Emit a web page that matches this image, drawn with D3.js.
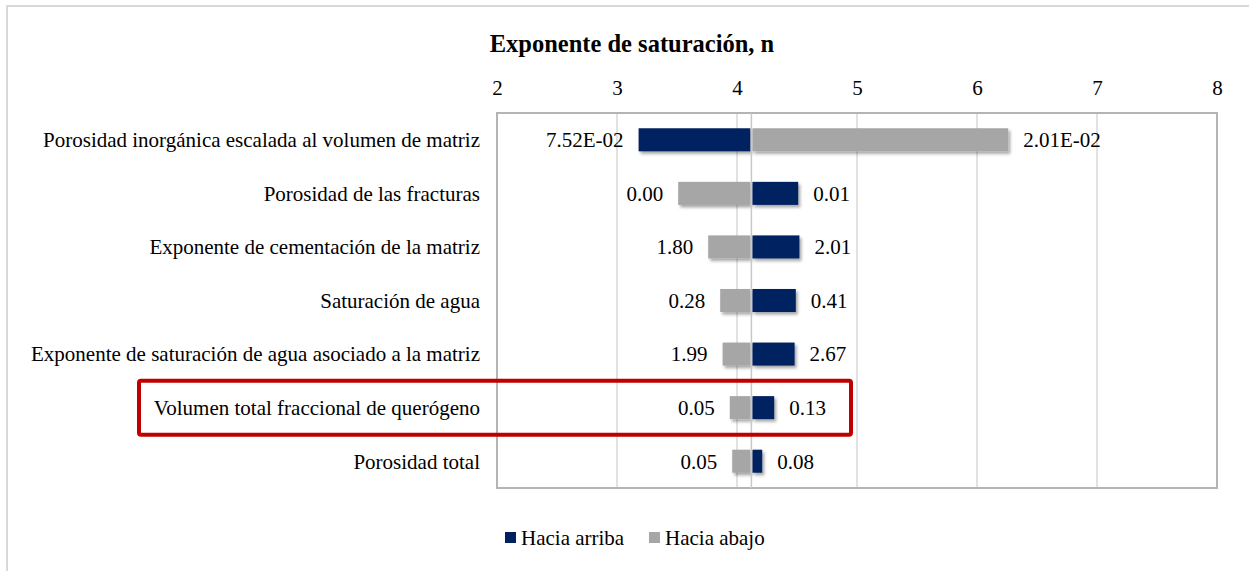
<!DOCTYPE html>
<html>
<head>
<meta charset="utf-8">
<script src="https://cdn.jsdelivr.net/npm/d3@7"></script>
<style>
  html, body { margin: 0; padding: 0; background: #fff; }
  svg { display: block; font-family: "Liberation Serif", "Times New Roman", serif; }
</style>
</head>
<body>
<svg id="chart" width="1249" height="571"></svg>
<script>
// Sensitivity of the saturation exponent n to each input parameter
const categories = [
  "Porosidad inorgánica escalada al volumen de matriz",
  "Porosidad de las fracturas",
  "Exponente de cementación de la matriz",
  "Saturación de agua",
  "Exponente de saturación de agua asociado a la matriz",
  "Volumen total fraccional de querógeno",
  "Porosidad total"
];
// n obtained when the parameter is moved up / down
const haciaArriba = [3.18, 4.51, 4.52, 4.49, 4.48, 4.31, 4.21];
const haciaAbajo  = [6.26, 3.51, 3.76, 3.86, 3.88, 3.94, 3.96];
// parameter values shown next to each bar
const labelsArriba = ["7.52E-02", "0.01", "2.01", "0.41", "2.67", "0.13", "0.08"];
const labelsAbajo  = ["2.01E-02", "0.00", "1.80", "0.28", "1.99", "0.05", "0.05"];
const baseValue = 4.12;
const xTicks = [2, 3, 4, 5, 6, 7, 8];
const seriesNames = ["Hacia arriba", "Hacia abajo"];
const highlighted = "Volumen total fraccional de querógeno";

const colors = { up: "#002060", down: "#a6a6a6" };
const fontSize = 21;

const svg = d3.select("#chart");

const defs = svg.append("defs");
const shadow = defs.append("filter").attr("id", "barShadow")
  .attr("x", "-10%").attr("y", "-30%").attr("width", "130%").attr("height", "190%");
shadow.append("feDropShadow")
  .attr("dx", 2).attr("dy", 2.5).attr("stdDeviation", 1.6)
  .attr("flood-color", "#000").attr("flood-opacity", 0.35);

// outer chart frame
svg.append("rect")
  .attr("x", 7).attr("y", 6).attr("width", 1260).attr("height", 580)
  .attr("fill", "none").attr("stroke", "#d9d9d9").attr("stroke-width", 2);

const plot = { left: 497, right: 1217, top: 113, bottom: 488 };

const x = d3.scaleLinear().domain([2, 8]).range([plot.left, plot.right]);
const y = d3.scaleBand().domain(categories)
  .range([plot.top, plot.bottom]).paddingInner(0.57).paddingOuter(0.285);

// title
svg.append("text")
  .attr("x", 632).attr("y", 52)
  .attr("text-anchor", "middle")
  .attr("font-weight", "bold").attr("font-size", 24.5)
  .attr("fill", "#000")
  .text("Exponente de saturación, n");

// gridlines
svg.append("g").selectAll("line")
  .data(xTicks.slice(1, -1)).join("line")
  .attr("x1", d => x(d)).attr("x2", d => x(d))
  .attr("y1", plot.top).attr("y2", plot.bottom)
  .attr("stroke", "#d9d9d9").attr("stroke-width", 1.5);

// top axis labels
const axis = svg.append("g")
  .attr("transform", `translate(0,${plot.top})`)
  .call(d3.axisTop(x).tickValues(xTicks).tickSize(0).tickPadding(18).tickFormat(d3.format("d")));
axis.select(".domain").remove();
axis.selectAll("text")
  .attr("font-family", "Liberation Serif, serif")
  .attr("font-size", fontSize).attr("fill", "#000");

// plot frame
svg.append("rect")
  .attr("x", plot.left).attr("y", plot.top)
  .attr("width", plot.right - plot.left).attr("height", plot.bottom - plot.top)
  .attr("fill", "none").attr("stroke", "#b4b4b4").attr("stroke-width", 2);

// bars
const rows = categories.map((c, i) => ({
  cat: c,
  up: haciaArriba[i], down: haciaAbajo[i],
  upLabel: labelsArriba[i], downLabel: labelsAbajo[i]
}));

const barGroup = svg.append("g").attr("filter", "url(#barShadow)");
const bars = [];
rows.forEach(r => {
  bars.push({ cat: r.cat, v: r.up, color: colors.up, label: r.upLabel });
  bars.push({ cat: r.cat, v: r.down, color: colors.down, label: r.downLabel });
});

barGroup.selectAll("rect")
  .data(bars).join("rect")
  .attr("x", d => x(Math.min(d.v, baseValue)) + (d.v > baseValue ? 1 : 0))
  .attr("width", d => Math.abs(x(d.v) - x(baseValue)) - 1)
  .attr("y", d => y(d.cat))
  .attr("height", y.bandwidth())
  .attr("fill", d => d.color);

// base axis line
svg.append("line")
  .attr("x1", x(baseValue)).attr("x2", x(baseValue))
  .attr("y1", plot.top).attr("y2", plot.bottom)
  .attr("stroke", "#c8c8c8").attr("stroke-width", 1.5);

// value labels
svg.append("g").selectAll("text")
  .data(bars).join("text")
  .attr("x", d => d.v < baseValue ? x(d.v) - 15 : x(d.v) + 15)
  .attr("y", d => y(d.cat) + y.bandwidth() / 2)
  .attr("dy", "0.35em")
  .attr("text-anchor", d => d.v < baseValue ? "end" : "start")
  .attr("font-size", fontSize).attr("fill", "#000")
  .text(d => d.label);

// category labels
svg.append("g").selectAll("text")
  .data(categories).join("text")
  .attr("x", 480)
  .attr("y", d => y(d) + y.bandwidth() / 2)
  .attr("dy", "0.35em")
  .attr("text-anchor", "end")
  .attr("font-size", fontSize).attr("fill", "#000")
  .text(d => d);

// highlight box around one parameter
const hy = y(highlighted) + y.bandwidth() / 2;
svg.append("rect")
  .attr("x", 139).attr("y", hy - 27)
  .attr("width", 712).attr("height", 54)
  .attr("rx", 2)
  .attr("fill", "none").attr("stroke", "#c00000").attr("stroke-width", 4);

// legend
const legend = svg.append("g").attr("transform", "translate(505,538)");
const legendItems = [
  { name: seriesNames[0], color: colors.up, dx: 0 },
  { name: seriesNames[1], color: colors.down, dx: 144 }
];
const li = legend.selectAll("g").data(legendItems).join("g")
  .attr("transform", d => `translate(${d.dx},0)`);
li.append("rect").attr("x", 0).attr("y", -6).attr("width", 11).attr("height", 11)
  .attr("fill", d => d.color);
li.append("text").attr("x", 16).attr("y", 0).attr("dy", "0.35em")
  .attr("font-size", fontSize).attr("fill", "#000")
  .text(d => d.name);
</script>
</body>
</html>
